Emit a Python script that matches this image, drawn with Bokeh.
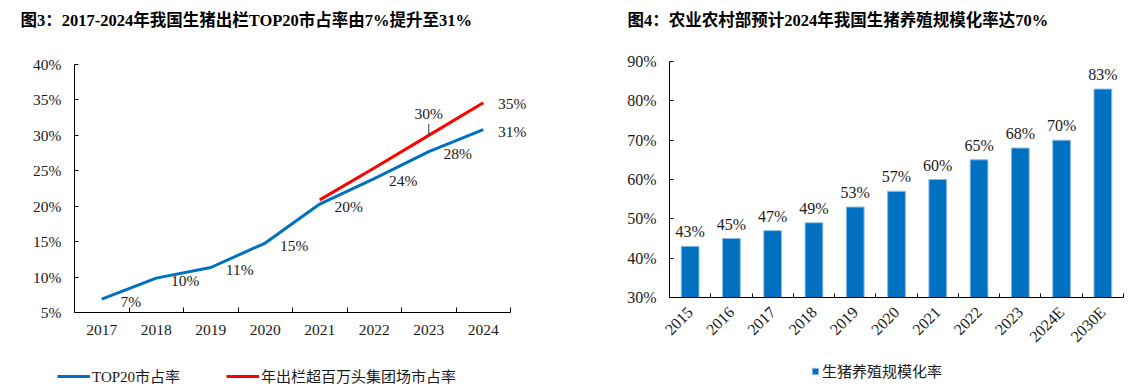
import math
from bokeh.plotting import figure
from bokeh.models import (Range1d, FixedTicker, PrintfTickFormatter, LabelSet, ColumnDataSource,
                          Legend, LegendItem, Label, LinearAxis)
from bokeh.layouts import row
from bokeh.embed import file_html
from bokeh.resources import INLINE

# ---------------- data ----------------
years_left = ["2017", "2018", "2019", "2020", "2021", "2022", "2023", "2024"]
top20_share = [6.9, 9.85, 11.35, 14.8, 20.3, 23.9, 27.7, 30.8]
top20_labels = ["7%", "10%", "11%", "15%", "20%", "24%", "28%", "31%"]
million_years = ["2021", "2022", "2023", "2024"]
million_share = [20.9, 25.4, 30.0, 34.6]
million_labels = ["", "", "30%", "35%"]

years_right = ["2015", "2016", "2017", "2018", "2019", "2020", "2021", "2022", "2023", "2024E", "2030E"]
scale_rate = [43, 45, 47, 49, 53, 57, 60, 65, 68, 70, 83]
scale_labels = ["43%", "45%", "47%", "49%", "53%", "57%", "60%", "65%", "68%", "70%", "83%"]

left_yticks = [5, 10, 15, 20, 25, 30, 35, 40]
right_yticks = [30, 40, 50, 60, 70, 80, 90]

# ---------------- style ----------------
FONT = "Liberation Serif, Noto Sans CJK SC"
TXT = "#1a1a1a"
BLUE = "#0070C0"
RED = "#FF0000"
FIG_H = 386


def make_fig(W, box, xlim, ylim):
    """box = (left, top, right, bottom) pixel box of the axes inside the figure."""
    left, top, right, bottom = box
    x0, x1 = xlim
    y0, y1 = ylim
    kx = (x1 - x0) / (right - left)
    ky = (y1 - y0) / (bottom - top)
    xr = Range1d(x0 - left * kx, x1 + (W - right) * kx)
    yr = Range1d(y0 - (FIG_H - bottom) * ky, y1 + top * ky)
    p = figure(width=W, height=FIG_H, x_range=xr, y_range=yr, title=None,
               x_axis_location=None, y_axis_location=None,
               min_border=0, min_border_left=0, min_border_right=0,
               min_border_top=0, min_border_bottom=0,
               output_backend="svg", toolbar_location=None, outline_line_color=None)
    p.xgrid.visible = False
    p.ygrid.visible = False
    return p


def make_axis(fs, loc, bounds):
    ax = LinearAxis(fixed_location=loc, bounds=bounds)
    ax.axis_line_color = "black"
    ax.axis_line_width = 1
    ax.major_label_text_font = FONT
    ax.major_label_text_font_size = fs
    ax.major_label_text_color = TXT
    ax.major_tick_line_color = "black"
    ax.minor_tick_line_color = "black"
    return ax


def title_label(text, x, y):
    return Label(x=x, y=y, x_units="screen", y_units="screen", text=text,
                 text_font=FONT, text_font_size="16.5px", text_font_style="bold",
                 text_baseline="middle", text_color="black")


# ---------------- left chart ----------------
nL = len(years_left)
xl_idx = {y: i + 0.5 for i, y in enumerate(years_left)}
centers_l = [xl_idx[y] for y in years_left]
p1 = make_fig(568, (74, 64, 510, 312), (0, nL), (left_yticks[0], left_yticks[-1]))

xa1 = make_axis("15.5px", left_yticks[0], (0, nL))
xa1.ticker = FixedTicker(ticks=centers_l, minor_ticks=list(range(0, nL + 1)))
xa1.major_label_overrides = {c: y for c, y in zip(centers_l, years_left)}
xa1.major_tick_in = 0
xa1.major_tick_out = 0
xa1.minor_tick_in = 5
xa1.minor_tick_out = 0
xa1.major_label_standoff = 12
p1.add_layout(xa1, "below")

ya1 = make_axis("15.5px", 0, (left_yticks[0], left_yticks[-1]))
ya1.ticker = FixedTicker(ticks=left_yticks, minor_ticks=[])
ya1.formatter = PrintfTickFormatter(format="%d%%")
ya1.major_tick_in = 4
ya1.major_tick_out = 0
ya1.major_label_standoff = 13
p1.add_layout(ya1, "left")

src_blue = ColumnDataSource(dict(x=centers_l, y=top20_share, label=top20_labels))
r_blue = p1.line("x", "y", source=src_blue, line_width=3, line_color=BLUE)
xr = [xl_idx[y] for y in million_years]
src_red = ColumnDataSource(dict(x=xr, y=million_share, label=million_labels))
r_red = p1.line("x", "y", source=src_red, line_width=3, line_color=RED)

p1.add_layout(LabelSet(x="x", y="y", text="label", source=src_blue, x_offset=29, y_offset=-2,
                       text_align="center", text_baseline="middle", text_font=FONT,
                       text_font_size="15.5px", text_color=TXT))
p1.add_layout(Label(x=xr[3], y=million_share[3], text=million_labels[3], x_offset=29, y_offset=-1,
                    text_align="center", text_baseline="middle", text_font=FONT,
                    text_font_size="15.5px", text_color=TXT))
p1.add_layout(Label(x=xr[2], y=million_share[2], text=million_labels[2], x_offset=0, y_offset=22,
                    text_align="center", text_baseline="middle", text_font=FONT,
                    text_font_size="15.5px", text_color=TXT))
p1.segment(x0=[xr[2]], y0=[million_share[2]], x1=[xr[2]], y1=[million_share[2] + 1.6],
           line_color="#333333", line_width=1)

p1.add_layout(title_label("图3：2017-2024年我国生猪出栏TOP20市占率由7%提升至31%", 20, FIG_H - 20))

leg1 = Legend(items=[LegendItem(label="TOP20市占率", renderers=[r_blue]),
                     LegendItem(label="年出栏超百万头集团场市占率", renderers=[r_red])],
              location=(57, FIG_H - 378 - 8), orientation="horizontal", glyph_width=33,
              glyph_height=16, label_standoff=2, spacing=46, padding=0, margin=0,
              border_line_color=None, background_fill_alpha=0, label_text_font=FONT,
              label_text_font_size="15px", label_text_color=TXT, label_height=16)
p1.add_layout(leg1)

# ---------------- right chart ----------------
nR = len(years_right)
xr_idx = {y: i + 0.5 for i, y in enumerate(years_right)}
centers_r = [xr_idx[y] for y in years_right]
p2 = make_fig(575, (101, 61, 555, 297), (0, nR), (right_yticks[0], right_yticks[-1]))

xa2 = make_axis("16px", right_yticks[0], (0, nR))
xa2.ticker = FixedTicker(ticks=centers_r, minor_ticks=list(range(0, nR + 1)))
xa2.major_label_overrides = {c: y for c, y in zip(centers_r, years_right)}
xa2.major_tick_in = 0
xa2.major_tick_out = 0
xa2.minor_tick_in = 4
xa2.minor_tick_out = 0
xa2.major_label_orientation = math.pi / 4
xa2.major_label_standoff = 12
p2.add_layout(xa2, "below")

ya2 = make_axis("16px", 0, (right_yticks[0], right_yticks[-1]))
ya2.ticker = FixedTicker(ticks=right_yticks, minor_ticks=[])
ya2.formatter = PrintfTickFormatter(format="%d%%")
ya2.major_tick_in = 4
ya2.major_tick_out = 0
ya2.major_label_standoff = 13
p2.add_layout(ya2, "left")

src_bar = ColumnDataSource(dict(x=centers_r, top=scale_rate, label=scale_labels))
r_bar = p2.vbar(x="x", top="top", bottom=right_yticks[0], width=0.43, source=src_bar,
                fill_color=BLUE, line_color="#8DBCE6", line_width=1)
p2.add_layout(LabelSet(x="x", y="top", text="label", source=src_bar, y_offset=6,
                       text_align="center", text_baseline="bottom", text_font=FONT,
                       text_font_size="16px", text_color=TXT))

p2.add_layout(title_label("图4：农业农村部预计2024年我国生猪养殖规模化率达70%", 59, FIG_H - 20))

leg2 = Legend(items=[LegendItem(label="生猪养殖规模化率", renderers=[r_bar])],
              location=(243, FIG_H - 373 - 8), orientation="horizontal", glyph_width=8,
              glyph_height=8, label_standoff=3, padding=0, margin=0, border_line_color=None,
              background_fill_alpha=0, label_text_font=FONT, label_text_font_size="15px",
              label_text_color=TXT, label_height=16)
p2.add_layout(leg2)

layout = row(p1, p2)
open("out.html", "w").write(file_html(layout, INLINE))
